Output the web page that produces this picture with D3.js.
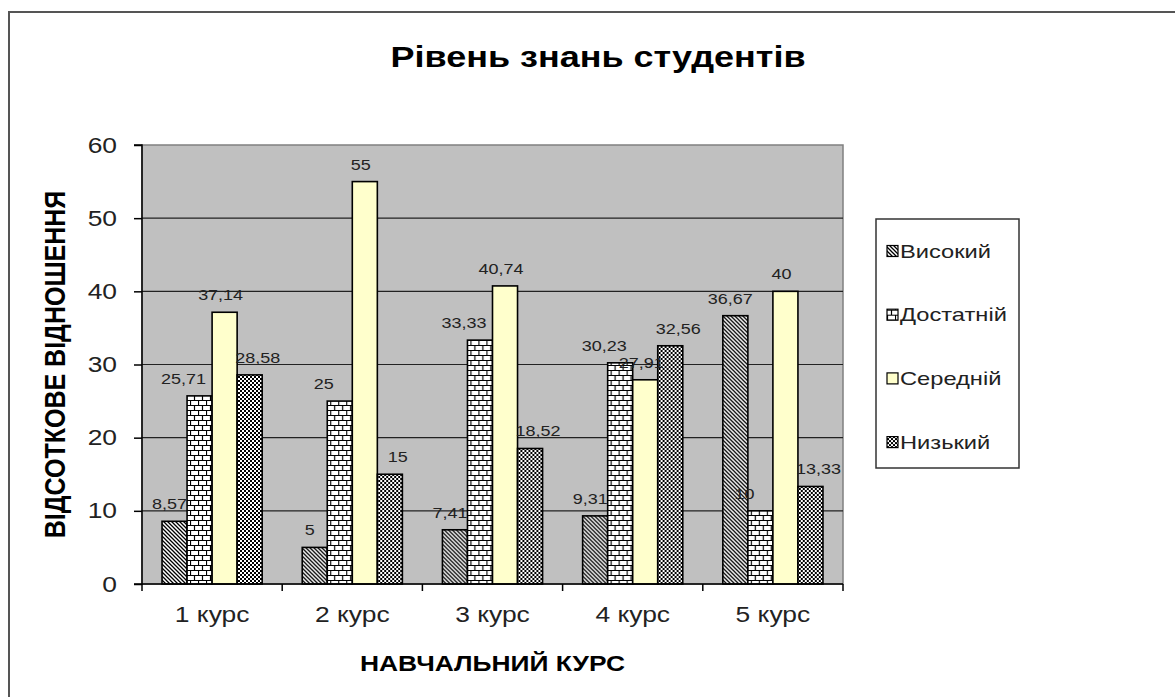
<!DOCTYPE html>
<html><head><meta charset="utf-8">
<script src="https://cdn.jsdelivr.net/npm/d3@7"></script>
<style>
html,body{margin:0;padding:0;background:#fff;}
svg{display:block;font-family:"Liberation Sans",Arial,sans-serif;}
</style></head>
<body>
<svg id="chart" width="1175" height="697"></svg>
<script>
const categories = ["1 курс", "2 курс", "3 курс", "4 курс", "5 курс"];
const seriesNames = ["Високий", "Достатній", "Середній", "Низький"];
const vysokyi = [8.57, 5, 7.41, 9.31, 36.67];
const dostatnii = [25.71, 25, 33.33, 30.23, 10];
const serednii = [37.14, 55, 40.74, 27.91, 40];
const nyzkyi = [28.58, 15, 18.52, 32.56, 13.33];
const yTicks = [0, 10, 20, 30, 40, 50, 60];
const titleText = "Рівень знань студентів";
const xTitle = "НАВЧАЛЬНИЙ КУРС";
const yTitle = "ВІДСОТКОВЕ ВІДНОШЕННЯ";

const seriesValues = [vysokyi, dostatnii, serednii, nyzkyi];
const fills = ["url(#pDiag)", "url(#pBrick)", "#FFFFCC", "url(#pCheck)"];
const labelDx = [-5, -16, -4, 8];
const SX = 1.2; // horizontal glyph stretch seen in the reference

const svg = d3.select("#chart");
const m = {left: 142, right: 843, top: 145, bottom: 584};

// patterns
const defs = svg.append("defs");
const pd = defs.append("pattern").attr("id", "pDiag").attr("patternUnits", "userSpaceOnUse")
  .attr("width", 4).attr("height", 4);
pd.append("rect").attr("width", 4).attr("height", 4).attr("fill", "#fff");
pd.append("path").attr("d", "M-1,-1L5,5M-1,3L1,5M3,-1L5,1").attr("stroke", "#000").attr("stroke-width", 1.3);

const pb = defs.append("pattern").attr("id", "pBrick").attr("patternUnits", "userSpaceOnUse")
  .attr("width", 8).attr("height", 10);
pb.append("rect").attr("width", 8).attr("height", 10).attr("fill", "#fff");
pb.append("path").attr("d", "M0,0.5H8M0,5.5H8M0.5,0.5V5.5M4.5,5.5V10").attr("stroke", "#000").attr("stroke-width", 1.2);

const pc = defs.append("pattern").attr("id", "pCheck").attr("patternUnits", "userSpaceOnUse")
  .attr("width", 4).attr("height", 4);
pc.append("rect").attr("width", 4).attr("height", 4).attr("fill", "#fff");
pc.append("rect").attr("width", 2).attr("height", 2).attr("fill", "#000");
pc.append("rect").attr("x", 2).attr("y", 2).attr("width", 2).attr("height", 2).attr("fill", "#000");

// outer frame
svg.append("rect").attr("x", 9).attr("y", 12).attr("width", 1200).attr("height", 720)
  .attr("fill", "none").attr("stroke", "#555").attr("stroke-width", 2);

// scales
const x0 = d3.scaleBand().domain(categories).range([m.left, m.right]).padding(0);
const x1 = d3.scaleBand().domain(seriesNames).range([0, x0.bandwidth()])
  .paddingInner(0).paddingOuter(0.8);
const y = d3.scaleLinear().domain([0, 60]).range([m.bottom, m.top]);

// plot area
svg.append("rect").attr("x", m.left).attr("y", m.top)
  .attr("width", m.right - m.left).attr("height", m.bottom - m.top)
  .attr("fill", "#C0C0C0").attr("stroke", "#808080").attr("stroke-width", 1.5);

// gridlines
svg.append("g").selectAll("line").data(yTicks.filter(t => t > 0 && t < 60)).join("line")
  .attr("x1", m.left).attr("x2", m.right)
  .attr("y1", d => y(d)).attr("y2", d => y(d))
  .attr("stroke", "#222").attr("stroke-width", 1.2);

// bars
const groups = svg.append("g").selectAll("g").data(categories).join("g")
  .attr("transform", d => `translate(${x0(d)},0)`);
const cells = (c, ci) => seriesNames.map((s, si) => ({s, si, v: seriesValues[si][ci]}));
groups.selectAll("rect").data(cells)
  .join("rect")
  .attr("x", d => x1(d.s)).attr("width", x1.bandwidth())
  .attr("y", d => y(d.v)).attr("height", d => y(0) - y(d.v))
  .attr("fill", d => fills[d.si]).attr("stroke", "#000").attr("stroke-width", 1.6);

// value labels
groups.selectAll("text").data(cells)
  .join("text")
  .attr("transform", d => `translate(${x1(d.s) + x1.bandwidth() / 2 + labelDx[d.si]},${y(d.v) - 12}) scale(${SX},1)`)
  .attr("text-anchor", "middle")
  .attr("font-size", 15).attr("fill", "#222")
  .text(d => String(d.v).replace(".", ","));

// y axis
const yAxis = d3.axisLeft(y).tickValues(yTicks).tickSize(8).tickPadding(6);
const gy = svg.append("g").attr("transform", `translate(${m.left},0)`).call(yAxis);
gy.select(".domain").attr("stroke", "#000").attr("stroke-width", 1.5).attr("d", `M-8,${m.top}H0V${m.bottom}H-8`);
gy.selectAll(".tick line").attr("stroke", "#000").attr("stroke-width", 1.5);
gy.selectAll(".tick text").attr("x", 0).attr("transform", `translate(-25,0) scale(${SX},1)`)
  .attr("font-size", 22).attr("fill", "#222")
  .attr("font-family", "Liberation Sans, Arial, sans-serif");

// x axis
const xAxis = d3.axisBottom(x0).tickSize(0).tickPadding(22);
const gx = svg.append("g").attr("transform", `translate(0,${m.bottom})`).call(xAxis);
gx.select(".domain").attr("stroke", "#000").attr("stroke-width", 1.5).attr("d", `M${m.left},0H${m.right}`);
gx.selectAll(".tick text").attr("transform", `scale(${SX},1)`).attr("font-size", 22).attr("fill", "#222")
  .attr("font-family", "Liberation Sans, Arial, sans-serif");
gx.append("g").selectAll("line").data(categories.concat(["_end"])).join("line")
  .attr("x1", (d, i) => m.left + i * x0.step()).attr("x2", (d, i) => m.left + i * x0.step())
  .attr("y1", 0).attr("y2", 7).attr("stroke", "#000").attr("stroke-width", 1.5);

// titles
svg.append("text").attr("transform", `translate(598,67) scale(${SX},1)`).attr("text-anchor", "middle")
  .attr("font-size", 30).attr("font-weight", "bold").attr("fill", "#000").text(titleText);
svg.append("text").attr("transform", `translate(${(m.left + m.right) / 2},671) scale(${SX},1)`).attr("text-anchor", "middle")
  .attr("font-size", 22).attr("font-weight", "bold").attr("fill", "#000").text(xTitle);
svg.append("text").attr("transform", `translate(65,${(m.top + m.bottom) / 2}) scale(${SX},1) rotate(-90)`)
  .attr("text-anchor", "middle")
  .attr("font-size", 25).attr("font-weight", "bold").attr("fill", "#000").text(yTitle);

// legend
const lg = svg.append("g");
lg.append("rect").attr("x", 876).attr("y", 219).attr("width", 143).attr("height", 249)
  .attr("fill", "#fff").attr("stroke", "#333").attr("stroke-width", 1.5);
const items = lg.selectAll("g.item").data(seriesNames).join("g").attr("class", "item")
  .attr("transform", (d, i) => `translate(887,${251 + i * 63.7})`);
items.append("rect").attr("x", 0).attr("y", -5.5).attr("width", 11).attr("height", 11)
  .attr("fill", (d, i) => fills[i]).attr("stroke", "#000").attr("stroke-width", 1.2);
items.append("text").attr("transform", "translate(13,6.5) scale(1.28,1)")
  .attr("font-size", 18.5).attr("fill", "#222").text(d => d);
</script>
</body></html>
